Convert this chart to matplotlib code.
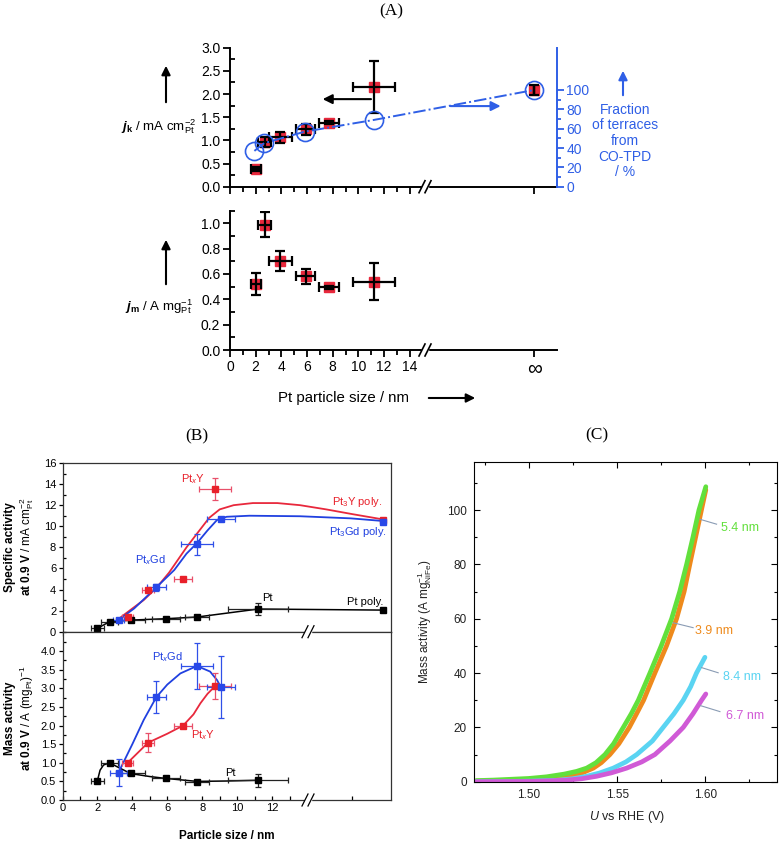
import matplotlib.pyplot as plt
from matplotlib.lines import Line2D
from matplotlib.patches import Rectangle, FancyArrowPatch
from matplotlib.ticker import MultipleLocator, FixedLocator

plt.rcParams['font.family'] = ['Liberation Sans', 'DejaVu Sans']
plt.rcParams['mathtext.fontset'] = 'custom'
plt.rcParams['mathtext.rm'] = 'Liberation Sans'
plt.rcParams['mathtext.it'] = 'Liberation Sans:italic'
plt.rcParams['mathtext.bf'] = 'Liberation Sans:bold'
plt.rcParams['mathtext.bfit'] = 'Liberation Sans:italic:bold'

# ---- data (A) Pt particle size effect ----
pt_size = [2.0, 2.7, 3.9, 5.9, 7.7, 11.2]
pt_size_err = [0.4, 0.5, 0.9, 0.75, 0.8, 1.65]
jk = [0.38, 0.97, 1.07, 1.24, 1.38, 2.15]
jk_err = [0.05, 0.11, 0.12, 0.12, 0.03, 0.57]
jk_bulk = 2.09
jk_bulk_err = 0.11
jm = [0.52, 0.99, 0.70, 0.58, 0.495, 0.54]
jm_err = [0.085, 0.10, 0.08, 0.06, 0.01, 0.145]
terrace_size = [1.9, 2.66, 5.85, 11.2]
terrace_frac = [37, 45, 57, 69]
terrace_bulk = 100

# ---- data (B) Pt, PtxY, PtxGd ----
b_pt_xerr = [0.35, 0.5, 0.85, 0.8, 0.7, 1.7]
b_pt_spec = [0.32, 0.95, 1.1, 1.23, 1.39, 2.15]
b_pt_spec_err = [0.15, 0.1, 0.1, 0.1, 0.1, 0.55]
b_pt_spec_poly = 2.05
b_pt_mass = [0.51, 0.99, 0.72, 0.58, 0.49, 0.53]
b_pt_mass_err = [0.05, 0.05, 0.05, 0.03, 0.03, 0.17]

y_size = [3.73, 4.9, 6.91, 8.72]
y_size_err = [0.3, 0.35, 0.5, 0.9]
y_spec = [1.42, 4.0, 5.0, 13.5]
y_spec_err = [0.15, 0.15, 0.15, 1.05]
y_spec_poly = 10.6
y_mass = [1.0, 1.54, 2.0, 3.05]
y_mass_err = [0.05, 0.25, 0.05, 0.35]

gd_size = [3.22, 5.37, 7.7, 9.07]
gd_size_err = [0.3, 0.55, 0.92, 0.8]
gd_mass_xerr = [0.5, 0.55, 0.92, 0.8]
gd_spec = [1.15, 4.2, 8.3, 10.7]
gd_spec_err = [0.1, 0.3, 1.0, 0.1]
gd_spec_poly = 10.45
gd_mass = [0.73, 2.76, 3.6, 3.03]
gd_mass_err = [0.36, 0.43, 0.62, 0.83]

# guide-to-the-eye curves
y_spec_fit_x = [3.2, 4.0, 4.65, 5.4, 6.1, 7.1, 7.7, 8.4, 9.0, 9.8, 10.9, 12.3, 13.6, 15.1, 16.6, 18.35]
y_spec_fit_y = [1.2, 2.2, 3.0, 4.2, 5.6, 8.0, 9.3, 10.8, 11.6, 12.0, 12.2, 12.2, 12.0, 11.6, 11.15, 10.65]
gd_spec_fit_x = [3.2, 4.1, 5.4, 6.4, 7.1, 7.7, 8.3, 8.85, 9.4, 10.7, 13.6, 16.5, 18.35]
gd_spec_fit_y = [1.1, 2.2, 4.25, 5.85, 7.4, 8.4, 9.6, 10.6, 10.9, 11.0, 10.95, 10.75, 10.5]
pt_mass_fit_x = [2.0, 2.15, 2.35, 2.7, 3.1, 3.9, 5.0, 5.9, 7.7, 9.4, 11.2]
pt_mass_fit_y = [0.52, 0.8, 0.94, 1.0, 0.9, 0.71, 0.63, 0.58, 0.5, 0.51, 0.53]
gd_mass_fit_x = [3.25, 4.0, 4.65, 5.37, 6.0, 6.75, 7.7, 8.45, 8.85, 9.07]
gd_mass_fit_y = [0.78, 1.5, 2.15, 2.76, 3.1, 3.4, 3.6, 3.45, 3.22, 3.03]
y_mass_fit_x = [3.73, 4.9, 6.0, 6.91, 7.5, 7.9, 8.3, 8.72]
y_mass_fit_y = [1.0, 1.54, 1.78, 2.0, 2.3, 2.6, 2.85, 3.05]

# ---- data (C) NiFe mass activity ----
c_labels = ['5.4 nm', '3.9 nm', '8.4 nm', '6.7 nm']
v_54 = [1.470, 1.480, 1.490, 1.500, 1.510, 1.520, 1.527, 1.5327, 1.538, 1.5431, 1.548, 1.5535,
        1.558, 1.5620, 1.5686, 1.5750, 1.5809, 1.5855, 1.5894, 1.5930, 1.5964, 1.6003]
j_54 = [0.4, 0.6, 0.9, 1.2, 1.8, 2.8, 3.8, 5, 7, 10, 14, 20, 25, 30, 40, 50, 60, 70, 80, 90, 100, 108.6]
v_39 = [1.470, 1.480, 1.490, 1.500, 1.510, 1.517, 1.5232, 1.530, 1.5365, 1.541, 1.5459, 1.551,
        1.5569, 1.561, 1.5650, 1.5714, 1.5780, 1.5837, 1.5880, 1.5912, 1.5945, 1.5978, 1.6003]
j_39 = [0.2, 0.3, 0.45, 0.65, 1.0, 1.4, 2, 3.2, 5, 7, 10, 14, 20, 25, 30, 40, 50, 60, 70, 80, 90, 100, 107.5]
v_84 = [1.470, 1.490, 1.500, 1.5157, 1.525, 1.5327, 1.540, 1.5478, 1.555, 1.5611, 1.5700, 1.5761,
        1.5822, 1.5875, 1.5917, 1.5950, 1.5998]
j_84 = [0.0, 0.1, 0.2, 0.5, 1.1, 2, 3.2, 5, 7.3, 10, 15, 20, 25, 30, 35, 40, 45.8]
v_67 = [1.470, 1.500, 1.5200, 1.530, 1.5384, 1.547, 1.5554, 1.5640, 1.5714, 1.5800, 1.5875, 1.5930,
        1.5979, 1.6003]
j_67 = [0.0, 0.1, 0.5, 1.1, 2, 3.3, 5, 7.3, 10, 15, 20, 25, 30, 32.3]

W, H = 779, 842
RED = '#e8283c'
BLUE = '#2f5fe6'


def fx(px):
    return px / W


def fy(py):
    return 1 - py / H


def add_axes_px(fig, left, top, right, bottom):
    return fig.add_axes([fx(left), fy(bottom), (right - left) / W, (bottom - top) / H])


def axis_break(fig, xpx, ypx, lw=1.2, color='k'):
    fig.add_artist(Rectangle((fx(xpx - 3), fy(ypx + 2.5)), 6 / W, 5 / H, color='white',
                             transform=fig.transFigure, zorder=10))
    for dx in (-3, 3):
        fig.add_artist(Line2D([fx(xpx + dx - 3), fx(xpx + dx + 3)], [fy(ypx + 6), fy(ypx - 6)],
                              color=color, lw=lw, transform=fig.transFigure, zorder=11))


def fig_arrow(fig, p0, p1, color='k'):
    fig.add_artist(FancyArrowPatch((fx(p0[0]), fy(p0[1])), (fx(p1[0]), fy(p1[1])),
                                   transform=fig.transFigure, arrowstyle='-|>',
                                   mutation_scale=13, lw=1.5, color=color))


def style_a(ax):
    for s in ['top', 'right']:
        ax.spines[s].set_visible(False)
    for s in ['left', 'bottom']:
        ax.spines[s].set_linewidth(1.4)
    ax.tick_params(which='major', direction='out', length=5, width=1.3, labelsize=10, pad=2)
    ax.tick_params(which='minor', direction='out', length=3.5, width=1.3)
    ax.tick_params(axis='y', which='minor', direction='in')


def panel_a(fig):
    X_INF = 23.7
    fig.text(fx(391), fy(11), '(A)', family='Liberation Serif', fontsize=12.5, ha='center', va='center')

    # upper: specific activity + terrace fraction
    ax = add_axes_px(fig, 230, 47.7, 556.7, 186.7)
    style_a(ax)
    ax.set_xlim(0, 25.45)
    ax.set_ylim(0, 3.0)
    ax.yaxis.set_major_locator(MultipleLocator(0.5))
    ax.yaxis.set_minor_locator(MultipleLocator(0.25))
    ax.set_yticklabels(['%.1f' % v for v in ax.get_yticks()])
    ax.set_xticks(list(range(0, 15, 2)) + [X_INF])
    ax.set_xticks(range(1, 15, 2), minor=True)
    ax.tick_params(axis='x', labelbottom=False)
    xs = pt_size + [X_INF]
    ys = jk + [jk_bulk]
    ax.plot(xs, ys, 's', color=RED, ms=6.5, zorder=3)
    ax.errorbar(xs, ys, xerr=pt_size_err + [0], yerr=jk_err + [jk_bulk_err], fmt='none',
                ecolor='k', elinewidth=1.6, capsize=3.5, capthick=1.6, zorder=4)
    ax.annotate('', xy=(7.0, 1.89), xytext=(11.2, 1.89),
                arrowprops=dict(arrowstyle='-|>', color='k', lw=1.5, mutation_scale=14))
    ax.annotate('', xy=(21.3, 1.74), xytext=(16.96, 1.74),
                arrowprops=dict(arrowstyle='-|>', color=BLUE, lw=1.5, mutation_scale=14))

    ax2 = ax.twinx()
    ax2.set_ylim(0, 143.7)
    for s in ['top', 'left', 'bottom']:
        ax2.spines[s].set_visible(False)
    ax2.spines['right'].set_color(BLUE)
    ax2.spines['right'].set_linewidth(1.4)
    ax2.set_yticks(range(0, 101, 20))
    ax2.set_yticks(range(10, 100, 20), minor=True)
    ax2.tick_params(which='major', direction='out', length=5, width=1.3, colors=BLUE, labelsize=10, pad=2)
    ax2.tick_params(which='minor', direction='out', length=3, width=1.3, colors=BLUE)
    tx = terrace_size + [X_INF]
    ty = terrace_frac + [terrace_bulk]
    ax2.plot(tx, ty, '-.', color=BLUE, lw=1.4)
    ax2.plot(tx, ty, 'o', mfc='none', mec=BLUE, ms=13, mew=1.2)

    fig_arrow(fig, (166, 105), (166, 63))
    fig.text(fx(159), fy(127), r'$\mathbfit{j}_{\mathbf{k}}$ / mA cm$_{\mathrm{Pt}}^{-2}$',
             fontsize=9.5, ha='center', va='center')
    fig_arrow(fig, (623, 98), (623, 68), color=BLUE)
    fig.text(fx(625), fy(141), 'Fraction\nof terraces\nfrom\nCO-TPD\n/ %', color=BLUE,
             fontsize=10, ha='center', va='center', linespacing=1.15)
    axis_break(fig, 425, 186.7)

    # lower: mass activity
    axm = add_axes_px(fig, 230, 210.6, 556.7, 350)
    style_a(axm)
    axm.set_xlim(0, 25.45)
    axm.set_ylim(0, 1.1)
    axm.yaxis.set_minor_locator(MultipleLocator(0.1))
    axm.set_yticks([0, 0.2, 0.4, 0.6, 0.8, 1.0])
    axm.set_yticklabels(['0.0', '0.2', '0.4', '0.6', '0.8', '1.0'])
    axm.set_xticks(list(range(0, 15, 2)) + [X_INF])
    axm.set_xticklabels([str(v) for v in range(0, 15, 2)] + ['∞'])
    axm.get_xticklabels()[-1].set_fontsize(15)
    axm.set_xticks(range(1, 15, 2), minor=True)
    axm.plot(pt_size, jm, 's', color=RED, ms=6.5, zorder=3)
    axm.errorbar(pt_size, jm, xerr=pt_size_err, yerr=jm_err, fmt='none',
                 ecolor='k', elinewidth=1.6, capsize=3.5, capthick=1.6, zorder=4)
    fig_arrow(fig, (166, 287), (166, 237))
    fig.text(fx(159), fy(307), r'$\mathbfit{j}_{\mathbf{m}}$ / A mg$_{\mathrm{Pt}}^{-1}$',
             fontsize=9.5, ha='center', va='center')
    fig.text(fx(344), fy(398), 'Pt particle size / nm', fontsize=10.8, ha='center', va='center')
    fig_arrow(fig, (426, 398), (478, 398))
    axis_break(fig, 425, 350)


def style_b(ax):
    for s in ax.spines.values():
        s.set_linewidth(0.9)
        s.set_color('#333333')
    ax.set_xlim(0, 18.81)
    ax.set_xticks(range(0, 13, 2))
    ax.set_xticks(list(range(1, 14, 2)) + [16.55], minor=True)
    ax.tick_params(axis='y', which='major', direction='out', length=3, width=0.9, labelsize=8, pad=1.5)
    ax.tick_params(axis='y', which='minor', direction='in', length=2, width=0.9)
    ax.tick_params(axis='x', which='both', direction='in', length=3, width=0.9, labelsize=8, pad=2)


def panel_b(fig):
    POLY_X = 18.35
    fig.text(fx(197), fy(436), '(B)', family='Liberation Serif', fontsize=12.5, ha='center', va='center')
    eb = dict(fmt='none', elinewidth=0.9, capsize=2, capthick=0.9, zorder=3)

    axt = add_axes_px(fig, 62.5, 463, 391, 631.7)
    style_b(axt)
    axt.set_ylim(0, 16)
    axt.yaxis.set_major_locator(MultipleLocator(2))
    axt.yaxis.set_minor_locator(MultipleLocator(1))
    axt.tick_params(axis='x', which='both', direction='out', labelbottom=False)
    axt.plot(pt_size + [POLY_X], b_pt_spec + [b_pt_spec_poly], '-', color='k', lw=1.1)
    axt.plot(y_spec_fit_x, y_spec_fit_y, '-', color=RED, lw=1.3)
    axt.plot(gd_spec_fit_x, gd_spec_fit_y, '-', color='#2040e0', lw=1.3)
    axt.errorbar(pt_size, b_pt_spec, xerr=b_pt_xerr, yerr=b_pt_spec_err, ecolor='#222222', **eb)
    axt.errorbar(y_size, y_spec, xerr=y_size_err, yerr=y_spec_err, ecolor='#e8506a', **eb)
    axt.errorbar(gd_size, gd_spec, xerr=gd_size_err, yerr=gd_spec_err, ecolor='#3050e8', **eb)
    axt.plot(pt_size + [POLY_X], b_pt_spec + [b_pt_spec_poly], 's', color='k', ms=5, zorder=4)
    axt.plot(y_size + [POLY_X], y_spec + [y_spec_poly], 's', color='#e8202a', ms=5, zorder=4)
    axt.plot(gd_size + [POLY_X], gd_spec + [gd_spec_poly], 's', color='#2848e8', ms=5, zorder=4)

    axb = add_axes_px(fig, 62.5, 631.7, 391, 800)
    style_b(axb)
    axb.set_ylim(0, 4.52)
    axb.set_yticks([0, 0.5, 1.0, 1.5, 2.0, 2.5, 3.0, 3.5, 4.0])
    axb.set_yticklabels(['0.0', '0.5', '1.0', '1.5', '2.0', '2.5', '3.0', '3.5', '4.0'])
    axb.yaxis.set_minor_locator(MultipleLocator(0.25))
    axb.plot(pt_mass_fit_x, pt_mass_fit_y, '-', color='k', lw=1.1)
    axb.plot(y_mass_fit_x, y_mass_fit_y, '-', color=RED, lw=1.3)
    axb.plot(gd_mass_fit_x, gd_mass_fit_y, '-', color='#2040e0', lw=1.3)
    axb.errorbar(pt_size, b_pt_mass, xerr=b_pt_xerr, yerr=b_pt_mass_err, ecolor='#222222', **eb)
    axb.errorbar(y_size, y_mass, xerr=y_size_err, yerr=y_mass_err, ecolor='#e8506a', **eb)
    axb.errorbar(gd_size, gd_mass, xerr=gd_mass_xerr, yerr=gd_mass_err, ecolor='#3050e8', **eb)
    axb.plot(pt_size, b_pt_mass, 's', color='k', ms=5, zorder=4)
    axb.plot(y_size, y_mass, 's', color='#e8202a', ms=5, zorder=4)
    axb.plot(gd_size, gd_mass, 's', color='#2848e8', ms=5, zorder=4)

    labs = [((193, 479), r'Pt$_x$Y', '#e8202a'), ((357, 502), r'Pt$_3$Y poly.', '#e8202a'),
            ((358, 532), r'Pt$_3$Gd poly.', '#2040e0'), ((150, 560), r'Pt$_x$Gd', '#2040e0'),
            ((267, 598), 'Pt', 'k'), ((365, 602), 'Pt poly.', 'k'),
            ((167, 657), r'Pt$_x$Gd', '#2040e0'), ((203, 735), r'Pt$_x$Y', '#e8202a'),
            ((230, 773), 'Pt', 'k')]
    for (px, py), t, c in labs:
        fig.text(fx(px), fy(py), t, color=c, fontsize=8, ha='center', va='center')

    fig.text(fx(10), fy(547), 'Specific activity', rotation=90, fontweight='bold',
             fontsize=8.5, ha='center', va='center')
    fig.text(fx(27), fy(547), r'$\mathbf{at\ 0.9\ V}$ / mA cm$^{-2}_{\mathrm{Pt}}$', rotation=90,
             fontsize=8.5, ha='center', va='center')
    fig.text(fx(10), fy(718), 'Mass activity', rotation=90, fontweight='bold',
             fontsize=8.5, ha='center', va='center')
    fig.text(fx(27), fy(718), r'$\mathbf{at\ 0.9\ V}$ / A (mg$_{\mathrm{Pt}}$)$^{-1}$', rotation=90,
             fontsize=8.5, ha='center', va='center')
    fig.text(fx(227), fy(836), 'Particle size / nm', fontweight='bold', fontsize=8.5,
             ha='center', va='center')
    axis_break(fig, 308, 631.7, lw=0.9)
    axis_break(fig, 308, 800, lw=0.9)


def panel_c(fig):
    fig.text(fx(597), fy(435), '(C)', family='Liberation Serif', fontsize=12.5, ha='center', va='center')
    ax = add_axes_px(fig, 474, 461.7, 776.7, 781.7)
    ax.set_xlim(1.4688, 1.6405)
    ax.set_ylim(0, 117.8)
    for s in ax.spines.values():
        s.set_linewidth(0.8)
    colors = ['#62e03c', '#ee8a1c', '#5ad4f2', '#d05ad6']
    curves = [(v_54, j_54), (v_39, j_39), (v_84, j_84), (v_67, j_67)]
    for i in [1, 0, 2, 3]:
        v, j = curves[i]
        ax.plot(v, j, color=colors[i], lw=3.4, solid_capstyle='round', solid_joinstyle='round')
    leaders = [((1.597, 96.6), (1.6064, 94.8)), ((1.5818, 58.5), (1.5931, 56.7)),
               ((1.5979, 42.0), (1.6073, 40.1)), ((1.5973, 28.0), (1.6083, 25.8))]
    label_pos = [(1.6087, 93.5), (1.5940, 55.6), (1.6098, 38.6), (1.6117, 24.3)]
    for lab, c, (p0, p1), (tx, ty) in zip(c_labels, colors, leaders, label_pos):
        ax.plot([p0[0], p1[0]], [p0[1], p1[1]], color='#8a9cb4', lw=0.8)
        ax.text(tx, ty, lab, color=c, fontsize=9, ha='left', va='center')
    ax.set_xticks([1.50, 1.55, 1.60])
    ax.set_xticklabels(['1.50', '1.55', '1.60'])
    ax.xaxis.set_minor_locator(FixedLocator([1.475, 1.525, 1.575, 1.625]))
    ax.set_yticks(range(0, 101, 20))
    ax.yaxis.set_minor_locator(FixedLocator(range(10, 120, 20)))
    ax.tick_params(which='both', direction='in', top=True, right=True, width=0.8,
                   labelsize=8.5, labelcolor='#222222')
    ax.tick_params(which='major', length=4, pad=5)
    ax.tick_params(which='minor', length=2.5)
    fig.text(fx(425), fy(622), r'Mass activity (A mg$_{\mathrm{NiFe}}^{-1}$)', rotation=90,
             fontsize=8.5, color='#222222', ha='center', va='center')
    fig.text(fx(627), fy(817), r'$U$ vs RHE (V)', fontsize=9, color='#222222',
             ha='center', va='center')


fig = plt.figure(figsize=(W / 100, H / 100), dpi=100)
panel_a(fig)
panel_b(fig)
panel_c(fig)
fig.savefig('out.png', dpi=100)
